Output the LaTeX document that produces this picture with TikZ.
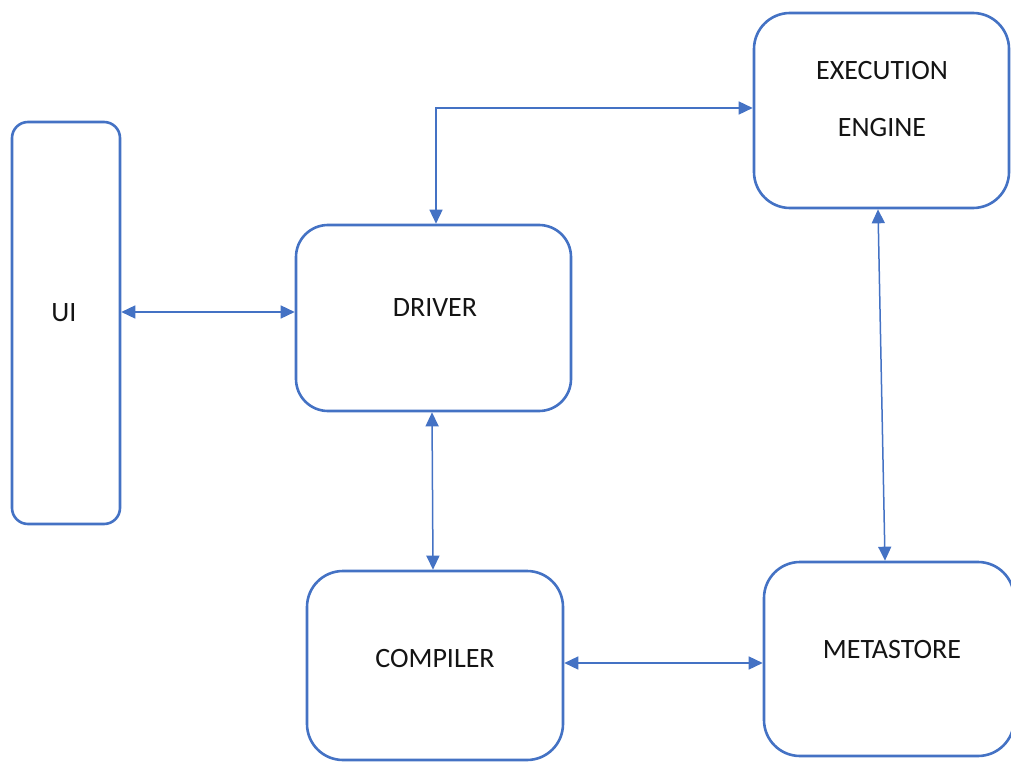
\documentclass[tikz,border=0pt]{standalone}
\usepackage{fontspec}
\setmainfont{Carlito}
\usetikzlibrary{arrows.meta}
\definecolor{boxblue}{HTML}{4472C4}
\definecolor{ink}{HTML}{141414}
\begin{document}
\begin{tikzpicture}[x=1pt,y=-1pt,
  block/.style={draw=boxblue, line width=2.6pt, fill=white, rectangle,
    rounded corners=#1, inner sep=0pt},
  block/.default=32pt,
  caption/.style={text=ink, font=\fontsize{28}{33}\selectfont, inner sep=0pt},
  link/.style={draw=boxblue, line width=1.5pt,
    {Triangle[length=14pt,width=13pt]}-{Triangle[length=14pt,width=13pt]}}]
  \useasboundingbox (0,0) rectangle (1011,762);

  % boxes
  \node[block=16pt, minimum width=108pt, minimum height=402pt] (ui) at (66,323) {};
  \node[block, minimum width=275pt, minimum height=186pt] (driver) at (433.5,318) {};
  \node[block=36pt, minimum width=255pt, minimum height=195pt] (ee) at (881.5,110.5) {};
  \node[block=36pt, minimum width=256pt, minimum height=189pt] (compiler) at (435,665.5) {};
  \node[block=36pt, minimum width=250pt, minimum height=194pt] (meta) at (889,659) {};

  % labels
  \node[caption] (uit) at (64,313) {UI};
  \node[caption] (drivert) at (435,308) {DRIVER};
  \node[caption] (eet1) at (882,71) {EXECUTION};
  \node[caption] (eet2) at (882,128) {ENGINE};
  \node[caption] (compilert) at (435,659) {COMPILER};
  \node[caption] (metat) at (892,650) {METASTORE};

  % connectors
  \draw[link] ([yshift=11pt]ui.east) -- ([yshift=6pt]driver.west);
  \draw[link] ([xshift=2.5pt]driver.north) |- ([yshift=2.5pt]ee.west);
  \draw[link] ([xshift=-1.5pt]driver.south) -- ([xshift=-2pt]compiler.north);
  \draw[link] ([xshift=-3.5pt]ee.south) -- ([xshift=-4pt]meta.north);
  \draw[link] ([yshift=2.5pt]compiler.east) -- ([yshift=-4pt]meta.west);
\end{tikzpicture}
\end{document}
